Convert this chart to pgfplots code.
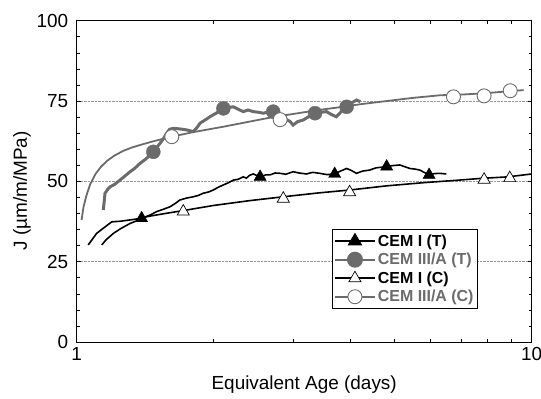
\documentclass[border=0pt]{standalone}
\usepackage{pgfplots}
\pgfplotsset{compat=1.18}
\usepackage{fontspec}
\setmainfont{Liberation Sans}
\definecolor{mygray}{gray}{0.42}
\begin{document}
\begin{tikzpicture}
\useasboundingbox (0,0) rectangle (541bp,399bp);
\begin{axis}[
  at={(76.7bp,57bp)}, anchor=south west,
  scale only axis, width=455bp, height=321.3bp,
  xmode=log, xmin=1, xmax=10, ymin=0, ymax=100,
  xtick={1,10}, xticklabels={1,10},
  minor xtick={2,3,4,5,6,7,8,9},
  ytick={0,25,50,75,100}, minor ytick={5,10,15,20,30,35,40,45,55,60,65,70,80,85,90,95},
  tick align=inside, tick pos=both,
  major tick length=4bp, minor tick length=3bp,
  every tick/.style={black, line width=0.6pt},
  axis line style={line width=0.9pt},
  ymajorgrids, grid style={densely dotted, gray!80, line width=0.5pt},
  /pgf/number format/assume math mode=true,
  tick label style={font=\fontsize{19}{22}\selectfont},
  yticklabel style={xshift=-5bp},
  xticklabel style={yshift=-2bp},
  every axis x label/.style={at={(axis description cs:0.5,-0.134)},anchor=center},
  every axis y label/.style={at={(axis description cs:-0.120,0.47)},rotate=90,anchor=center},
  label style={font=\fontsize{19}{22}\selectfont},
  xlabel={Equivalent Age (days)},
  ylabel={J (µm/m/MPa)},
  legend style={at={(0.56,0.351)}, anchor=north west, draw=black, line width=0.9pt,
    font=\fontsize{16}{18}\selectfont\bfseries, inner xsep=2pt, inner ysep=3pt, row sep=1.5pt,
    cells={anchor=west}},
  legend image code/.code={
    \draw[mark repeat=2,mark phase=2,#1] plot coordinates {(0bp,0bp) (20bp,0bp) (40bp,0bp)};
  },
]
% CEM I (C) smooth black
\addplot[black, line width=1.6pt, forget plot] coordinates {
(1.135,30.2) (1.16,31.8) (1.204,33.8) (1.25,35.3) (1.31,36.9) (1.37,38.0) (1.425,39.0)
(1.55,39.9) (1.715,40.9) (2.0,42.5) (2.4,44.0) (2.845,45.2) (3.4,46.4) (3.98,47.3)
(4.8,48.6) (5.8,49.6) (6.95,50.4) (7.7,50.9) (8.87,51.4) (10.0,52.3)};
% CEM III/A (C) smooth gray
\addplot[mygray, line width=1.8pt, forget plot] coordinates {
(1.025,38) (1.035,42) (1.05,45.5) (1.07,49) (1.10,52.3) (1.13,54.5) (1.164,56.3)
(1.21,58.0) (1.266,59.5) (1.32,60.5) (1.378,61.3) (1.45,62.2) (1.524,63.0) (1.618,63.9)
(1.8,65.3) (2.1,67.0) (2.4,68.6) (2.7,70.0) (3.0,71.0) (3.4,72.2) (3.8,73.1) (4.2,74.0)
(4.8,75.0) (5.5,76.0) (6.3,76.8) (7.0,77.0) (7.86,77.4) (8.5,77.8) (9.0,78.1) (9.6,78.4)};
% CEM I (T) noisy black
\addplot[black, line width=1.6pt, forget plot] coordinates {
(1.060,30.2) (1.106,33.8) (1.144,35.4) (1.194,37.4) (1.250,37.6) (1.310,38.0) (1.389,38.5)
(1.450,39.5) (1.499,40.6) (1.550,41.3) (1.604,42.1) (1.650,43.2) (1.686,44.2) (1.745,44.8)
(1.804,45.2) (1.850,45.6) (1.898,46.3) (1.950,46.7) (1.996,47.3) (2.050,48.2) (2.101,48.9)
(2.150,49.5) (2.210,50.4) (2.26,50.6) (2.323,51.4) (2.36,51.0) (2.40,51.9) (2.444,52.3)
(2.49,51.8) (2.53,51.4) (2.60,52.0) (2.66,52.0) (2.73,52.6) (2.80,52.5) (2.88,52.2)
(2.99,53.0) (3.08,52.6) (3.20,52.3) (3.30,52.8) (3.42,52.5) (3.55,52.1) (3.69,52.3)
(3.80,53.2) (3.92,54.0) (4.00,53.5) (4.12,52.5) (4.25,53.2) (4.40,53.5) (4.55,54.2)
(4.80,54.6) (4.95,54.9) (5.13,55.1) (5.25,54.6) (5.40,54.0) (5.55,53.8) (5.68,53.5)
(5.80,52.8) (5.95,52.0) (6.10,52.4) (6.27,52.5) (6.49,52.3)};
% CEM III/A (T) noisy gray
\addplot[mygray, line width=3pt, forget plot] coordinates {
(1.144,41.1) (1.150,44.0) (1.154,46.3) (1.170,47.5) (1.184,48.3) (1.210,49.0) (1.245,50.4)
(1.28,51.8) (1.310,53.0) (1.34,54.0) (1.378,55.6) (1.42,57.0) (1.474,59.2) (1.524,61.8)
(1.55,63.2) (1.577,65.0) (1.60,66.2) (1.630,66.5) (1.69,66.3) (1.745,66.0) (1.804,65.5)
(1.84,66.8) (1.867,68.1) (1.92,69.2) (1.963,70.1) (2.03,71.3) (2.101,72.7) (2.16,73.0)
(2.210,73.2) (2.26,72.5) (2.323,71.7) (2.38,72.2) (2.444,71.7) (2.51,71.5) (2.571,71.2)
(2.64,71.6) (2.703,71.7) (2.76,71.0) (2.822,70.1) (2.88,69.4) (2.945,68.6) (2.99,67.5)
(3.06,68.6) (3.148,69.1) (3.24,70.2) (3.34,71.2) (3.44,71.5) (3.54,71.7) (3.63,70.8)
(3.72,70.1) (3.82,71.8) (3.92,73.2) (4.02,74.4) (4.12,75.3) (4.2,74.8)};
% markers
\addplot[only marks, mark=triangle*, mark size=7bp, black, forget plot] coordinates {
(1.389,38.5) (2.53,51.4) (3.69,52.3) (4.80,54.6) (5.95,52.0)};
\addplot[only marks, mark=*, mark size=7bp, mygray, forget plot] coordinates {
(1.474,59.2) (2.101,72.7) (2.703,71.7) (3.34,71.2) (3.92,73.2)};
\addplot[only marks, mark=triangle*, mark size=7bp, black, fill=white, line width=0.7pt, forget plot] coordinates {
(1.715,40.6) (2.845,44.6) (3.98,46.6) (7.86,50.5) (8.95,51.0)};
\addplot[only marks, mark=*, mark size=7bp, mygray, fill=white, line width=0.9pt, forget plot] coordinates {
(1.618,63.9) (2.80,69.2) (6.73,76.3) (7.86,76.6) (8.97,78.2)};
% legend
\addlegendimage{black, line width=1.6pt, mark=triangle*, mark size=7bp}
\addlegendentry{CEM I (T)}
\addlegendimage{mygray, line width=2pt, mark=*, mark size=7bp}
\addlegendentry{\textcolor{mygray}{CEM III/A (T)}}
\addlegendimage{black, line width=1.6pt, mark=triangle*, mark size=7bp, mark options={fill=white, line width=0.7pt}}
\addlegendentry{CEM I (C)}
\addlegendimage{mygray, line width=1.8pt, mark=*, mark size=7bp, mark options={fill=white, line width=0.9pt}}
\addlegendentry{\textcolor{mygray}{CEM III/A (C)}}
\end{axis}
\end{tikzpicture}
\end{document}
